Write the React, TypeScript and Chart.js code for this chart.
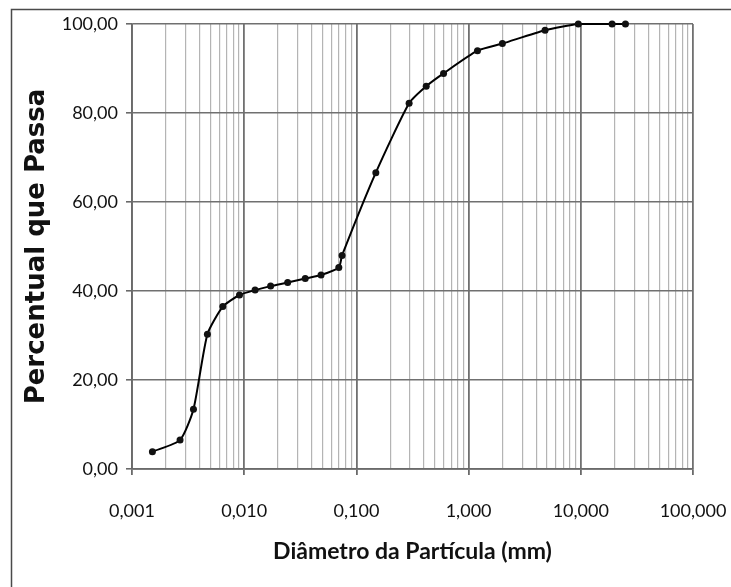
import React, { useEffect, useRef } from "react";
import { Chart, registerables } from "chart.js";

Chart.register(...registerables);

const diameters: number[] = [0.00152, 0.00268, 0.00353, 0.0047, 0.00645, 0.00908, 0.0125, 0.0172, 0.0244, 0.035, 0.0484, 0.0697, 0.0745, 0.149, 0.295, 0.419, 0.598, 1.2, 2.0, 4.8, 9.5, 19.0, 25.0];
const percentPassing: number[] = [3.9, 6.5, 13.4, 30.3, 36.5, 39.1, 40.2, 41.1, 41.9, 42.8, 43.6, 45.3, 48.0, 66.6, 82.2, 86.0, 88.9, 94.0, 95.6, 98.6, 100, 100, 100];
const xDecades: number[] = [-3, -2, -1, 0, 1, 2];
const yTicks: number[] = [0, 20, 40, 60, 80, 100];
const xTitle = "Diâmetro da Partícula (mm)";
const yTitle = "Percentual que Passa";

const framePlugin = {
  id: "frame",
  beforeDraw(chart: any) {
    const ctx = chart.ctx;
    ctx.save();
    ctx.strokeStyle = "#4a4a4a";
    ctx.lineWidth = 1.5;
    ctx.beginPath();
    ctx.moveTo(11.5, chart.height);
    ctx.lineTo(11.5, 9.5);
    ctx.lineTo(chart.width, 9.5);
    ctx.stroke();
    ctx.restore();
  },
};

export default function App() {
  const ref = useRef<HTMLCanvasElement | null>(null);
  useEffect(() => {
    if (!ref.current) return;
    const points = diameters.map((d, i) => ({ x: d, y: percentPassing[i] }));
    const chart = new Chart(ref.current, {
      type: "line",
      data: {
        datasets: [
          {
            data: points,
            borderColor: "#000",
            backgroundColor: "#000",
            borderWidth: 2,
            pointRadius: 3.5,
            pointBorderWidth: 0,
            pointBackgroundColor: "#111",
            tension: 0.2,
            clip: 4 as any,
          },
        ],
      },
      options: {
        animation: false,
        responsive: false,
        parsing: false as any,
        layout: { padding: { top: 24, right: 38, left: 0, bottom: 0 } },
        plugins: { legend: { display: false }, tooltip: { enabled: false } },
        scales: {
          x: {
            type: "logarithmic",
            min: 0.001,
            max: 100,
            afterBuildTicks: (scale: any) => {
              const t: any[] = [];
              for (const e of xDecades) {
                for (let s = 1; s <= 9; s++) {
                  if (e === 2 && s > 1) break;
                  t.push({ value: +(s * Math.pow(10, e)).toPrecision(6), major: s === 1 });
                }
              }
              scale.ticks = t;
            },
            afterFit: (scale: any) => {
              scale.height = 118;
              scale.paddingRight = 0;
              scale.paddingLeft = 0;
            },
            ticks: {
              autoSkip: false,
              maxRotation: 0,
              minRotation: 0,
              padding: 25,
              color: "#111",
              font: { family: "Lato", size: 18 },
              callback: (v: any) => {
                const n = Number(v);
                const lg = Math.log10(n);
                if (Math.abs(lg - Math.round(lg)) < 1e-9) return n.toFixed(3).replace(".", ",");
                return "";
              },
            },
            grid: {
              color: (c: any) => (c.tick && c.tick.major ? "#707070" : "#b4b4b4"),
              lineWidth: (c: any) => (c.tick && c.tick.major ? 1.8 : 1.2),
              tickColor: (c: any) => (c.tick && c.tick.major ? "#6a6a6a" : "rgba(0,0,0,0)"),
              tickLength: 6,
            },
            border: { color: "#6a6a6a", width: 1.8 },
            title: {
              display: true,
              text: xTitle,
              color: "#111",
              font: { family: "Lato", size: 23, weight: "bold" },
              padding: { top: 0, bottom: 22 },
            },
          },
          y: {
            type: "linear",
            min: 0,
            max: 100,
            afterBuildTicks: (scale: any) => {
              scale.ticks = yTicks.map((v) => ({ value: v }));
            },
            afterFit: (scale: any) => {
              scale.width = 132;
            },
            ticks: {
              padding: 8,
              color: "#111",
              font: { family: "Lato", size: 18 },
              callback: (v: any) => Number(v).toFixed(2).replace(".", ","),
            },
            grid: {
              color: "#707070",
              lineWidth: 1.6,
              tickColor: "#6a6a6a",
              tickLength: 6,
            },
            border: { color: "#6a6a6a", width: 1.8 },
            title: {
              display: true,
              text: yTitle,
              color: "#111",
              font: { family: "DejaVu Sans", size: 26, weight: "bold" },
              padding: { top: 22, bottom: 0 },
            },
          },
        },
      },
      plugins: [framePlugin],
    });
    return () => chart.destroy();
  }, []);
  return (
    <div style={{ position: "fixed", left: 0, top: 0, width: 731, height: 587, background: "#fff" }}>
      <canvas ref={ref} width={731} height={587} style={{ display: "block" }} />
    </div>
  );
}
